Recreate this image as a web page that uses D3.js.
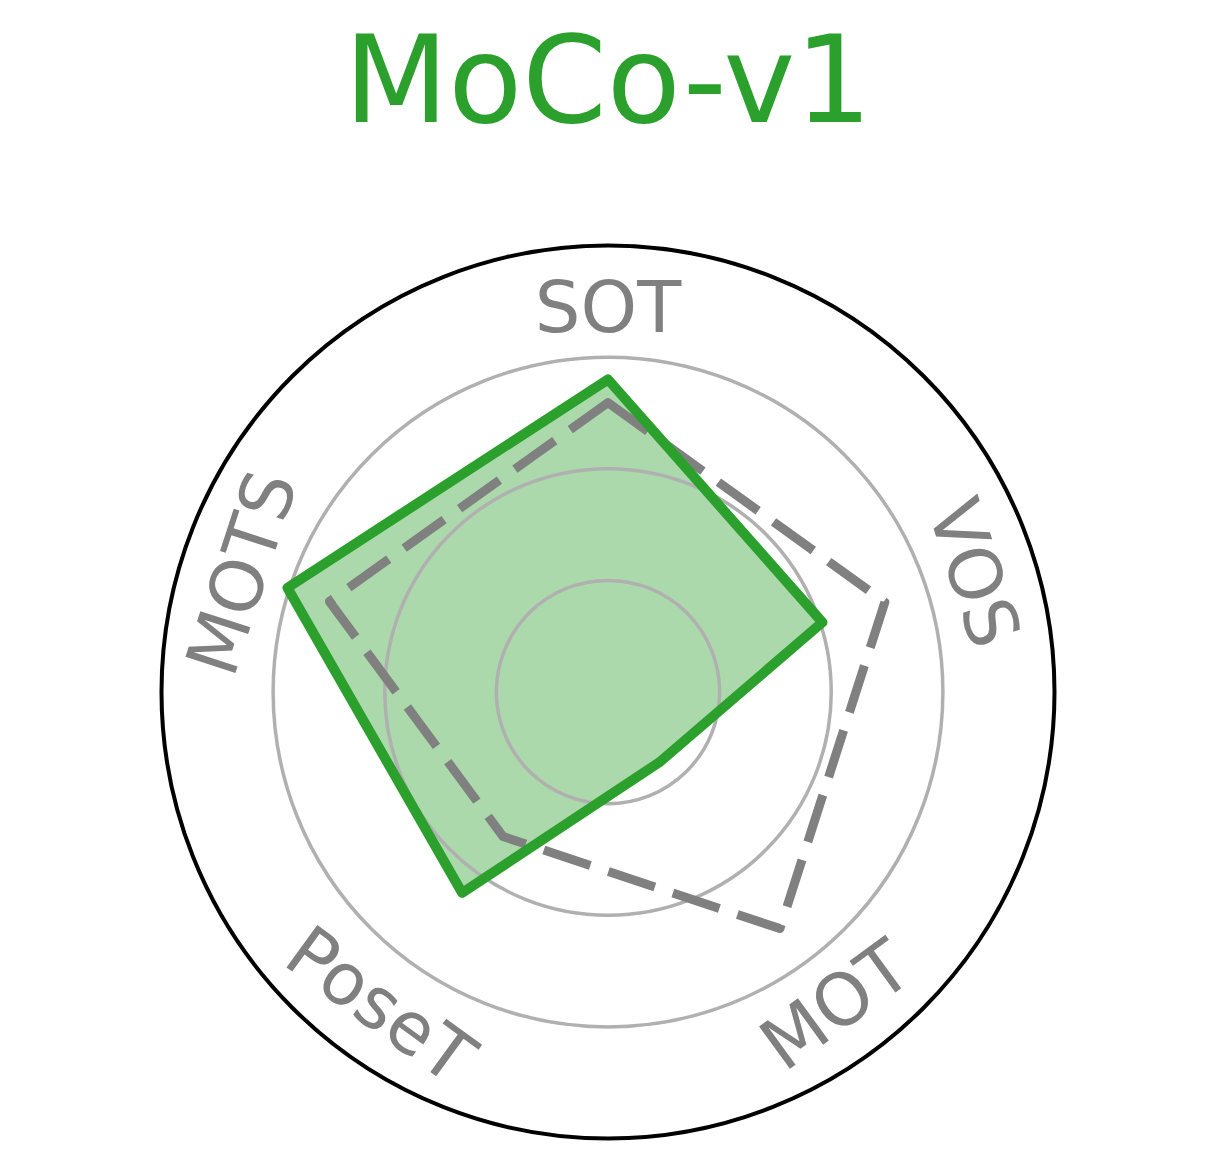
<!DOCTYPE html>
<html>
<head>
<meta charset="utf-8">
<script src="https://cdn.jsdelivr.net/npm/d3@7"></script>
<style>
  html, body { margin: 0; padding: 0; background: #fff; }
  svg { display: block; }
</style>
</head>
<body>
<svg id="chart" width="1219" height="1164"></svg>
<script>
// ---- data ----
const title = "MoCo-v1";
const categories = ["SOT", "VOS", "MOT", "PoseT", "MOTS"];
const modelValues = [0.70, 0.505, 0.195, 0.556, 0.755];
const baselineValues = [0.648, 0.652, 0.655, 0.40, 0.656];
const gridTicks = [0.25, 0.5, 0.75];
const outerTick = 1.0;

// ---- layout ----
const W = 1219, H = 1164;
const cx = 608, cy = 692, R = 446.5;
const green = "#2ca02c";
const font = "'DejaVu Sans', sans-serif";

const svg = d3.select("#chart");
const r = d3.scaleLinear().domain([0, 1]).range([0, R]);
const angle = d3.scaleLinear().domain([0, categories.length]).range([0, 2 * Math.PI]);

const g = svg.append("g").attr("transform", `translate(${cx},${cy})`);

const radial = d3.lineRadial()
  .angle((d, i) => angle(i))
  .radius(d => r(d))
  .curve(d3.curveLinearClosed);

// fill
g.append("path")
  .attr("d", radial(modelValues))
  .attr("fill", green)
  .attr("fill-opacity", 0.4)
  .attr("stroke", "none");

// grid circles
g.selectAll("circle.grid")
  .data(gridTicks)
  .enter().append("circle")
  .attr("class", "grid")
  .attr("r", d => r(d))
  .attr("fill", "none")
  .attr("stroke", "#b0b0b0")
  .attr("stroke-width", 3.5);

// outer circle
g.append("circle")
  .attr("r", r(outerTick))
  .attr("fill", "none")
  .attr("stroke", "#000")
  .attr("stroke-width", 4);

// baseline dashed
g.append("path")
  .attr("d", radial(baselineValues))
  .attr("fill", "none")
  .attr("stroke", "#808080")
  .attr("stroke-width", 9)
  .attr("stroke-dasharray", "49,19")
  .attr("stroke-linejoin", "round");

// model line
g.append("path")
  .attr("d", radial(modelValues))
  .attr("fill", "none")
  .attr("stroke", green)
  .attr("stroke-width", 10)
  .attr("stroke-linejoin", "round");

// category labels
const labelR = 386;
g.selectAll("text.cat")
  .data(categories)
  .enter().append("text")
  .attr("class", "cat")
  .attr("transform", (d, i) => {
    const a = angle(i);
    const x = labelR * Math.sin(a), y = -labelR * Math.cos(a);
    let deg = a * 180 / Math.PI;
    if (deg > 90 && deg < 270) deg -= 180;
    else if (deg >= 270) deg -= 360;
    return `translate(${x},${y}) rotate(${deg})`;
  })
  .attr("text-anchor", "middle")
  .attr("dy", "0.36em")
  .attr("font-family", font)
  .attr("font-size", 72)
  .attr("fill", "#808080")
  .text(d => d);

// title
svg.append("text")
  .attr("x", cx)
  .attr("y", 122)
  .attr("text-anchor", "middle")
  .attr("font-family", font)
  .attr("font-size", 121)
  .attr("fill", green)
  .text(title);
</script>
</body>
</html>
